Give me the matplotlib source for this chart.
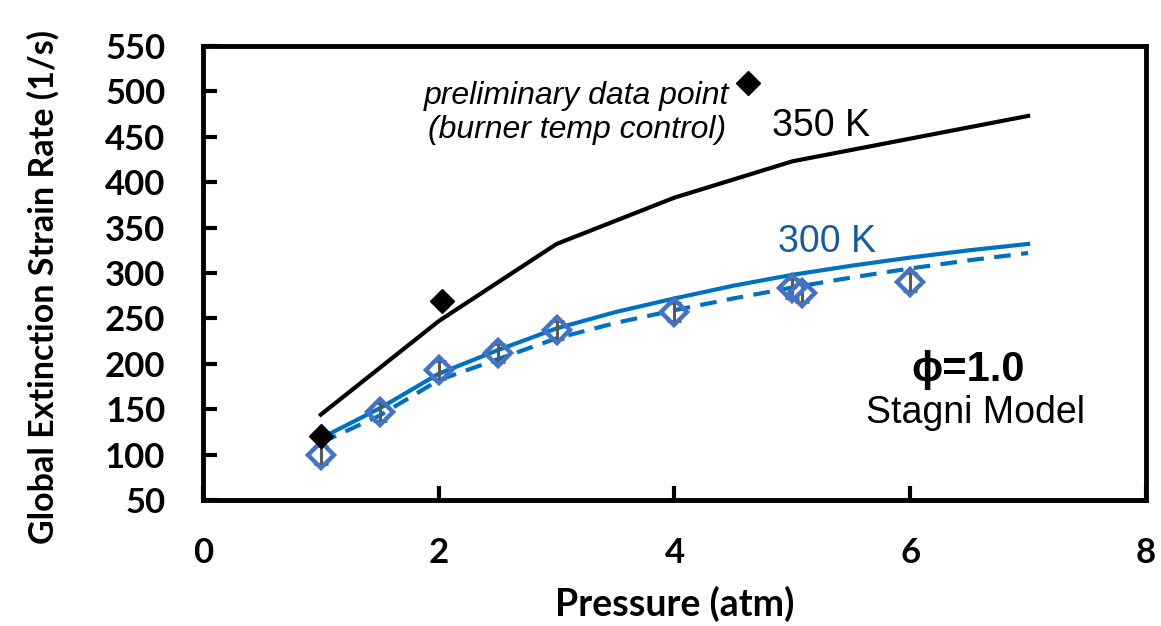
import matplotlib
matplotlib.use("Agg")
import matplotlib.pyplot as plt

# measured extinction strain rates, 300 K (open diamonds)
p_exp = [1.0, 1.5, 2.0, 2.5, 3.0, 4.0, 5.0, 5.08, 6.0]
k_exp = [100, 147, 193, 212, 237, 257, 283, 278, 290]
k_err = [10, 10, 10, 10, 10, 10, 10, 10, 10]

# preliminary 350 K points (filled diamonds)
p_pre = [1.0, 2.03, 4.62]
k_pre = [120, 269, 509]

# Stagni model, 350 K
p_350 = [1, 2, 3, 4, 5, 6, 7]
k_350 = [144, 247, 332, 383, 423, 448, 473]

# Stagni model, 300 K (solid and dashed)
p_300 = [1, 1.5, 2, 2.5, 3, 3.5, 4, 4.5, 5, 5.5, 6, 6.5, 7]
k_300 = [118, 151, 189, 215, 239, 257, 272, 286, 298, 308, 317, 325, 332]
k_300b = [113, 143, 182, 205, 228, 245, 259, 272, 284, 295, 305, 314, 322]

blue = '#0070C0'
mark_blue = '#4472C4'
bold_font = 'Lato'
arial = 'Liberation Sans'

fig = plt.figure(figsize=(11.61, 6.26), dpi=100)
ax = fig.add_axes([0.1748, 0.2013, 0.8123, 0.7252])

ax.plot(p_350, k_350, color='black', lw=3)
ax.plot(p_300, k_300, color=blue, lw=3)
ax.plot(p_300, k_300b, color=blue, lw=3, linestyle=(0, (4, 2.5)))
ax.errorbar(p_exp, k_exp, yerr=k_err, fmt='none', ecolor='#595959', elinewidth=2.2, capsize=5, capthick=2)
ax.plot(p_exp, k_exp, 'D', ms=13.5, mfc='none', mec=mark_blue, mew=3.2)
ax.plot(p_pre, k_pre, 'D', ms=12, color='black')

ax.set_xlim(0, 8)
ax.set_ylim(50, 550)
ax.set_xticks([0, 2, 4, 6, 8])
ax.set_yticks(range(50, 551, 50))
ax.tick_params(direction='in', length=10, width=3, pad=27)
for s in ax.spines.values():
    s.set_linewidth(3.5)
for lab in ax.get_xticklabels() + ax.get_yticklabels():
    lab.set_fontfamily(bold_font)
    lab.set_fontweight('bold')
    lab.set_fontsize(25)

ax.set_xlabel('Pressure (atm)', fontfamily=bold_font, fontweight='bold', fontsize=27, labelpad=12)
ax.set_ylabel('Global Extinction Strain Rate (1/s)', fontfamily=bold_font, fontweight='bold', fontsize=24.5)
ax.yaxis.set_label_coords(-0.152, 0.47)

ax.text(3.17, 476, 'preliminary data point\n(burner temp control)', fontfamily=arial, style='italic',
        fontsize=23, ha='center', va='center', linespacing=1.15)
ax.text(4.83, 462, '350 K', fontfamily=arial, fontsize=27, va='center')
ax.text(4.88, 334, '300 K', fontfamily=arial, fontsize=27, va='center', color='#1a5c99')
ax.text(6.49, 193, 'ϕ=1.0', fontfamily=arial, fontweight='bold', fontsize=30, ha='center', va='center')
ax.text(6.55, 146, 'Stagni Model', fontfamily=arial, fontsize=27, ha='center', va='center')

fig.savefig('out.png', dpi=100)
